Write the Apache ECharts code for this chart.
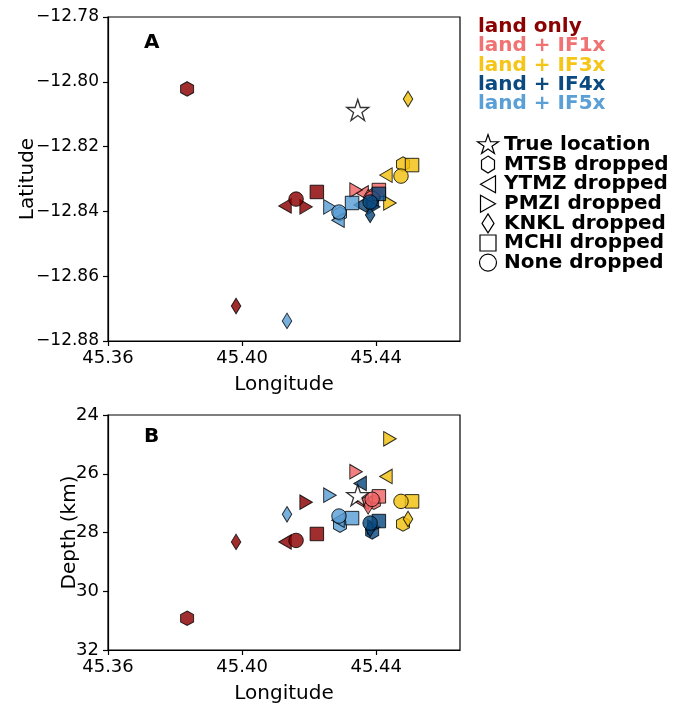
<!DOCTYPE html>
<html><head><meta charset="utf-8">
<script src="https://cdn.jsdelivr.net/npm/echarts@6/dist/echarts.min.js"></script>
<style>html,body{margin:0;padding:0;background:#fff}#c{width:689px;height:705px}</style>
</head><body><div id="c"></div>
<script>
// ---- tick values ----
const lonTicks = [45.36, 45.40, 45.44];
const latTicks = [-12.88, -12.86, -12.84, -12.82, -12.80, -12.78];
const depthTicks = [24, 26, 28, 30, 32];

// ---- categories ----
const groupNames = ['land only', 'land + IF1x', 'land + IF3x', 'land + IF4x', 'land + IF5x'];
const droppedNames = ['MTSB dropped', 'YTMZ dropped', 'PMZI dropped', 'KNKL dropped', 'MCHI dropped', 'None dropped'];

// ---- values (order: MTSB, YTMZ, PMZI, KNKL, MCHI, None) ----
const lonLand = [45.3836, 45.4128, 45.4191, 45.3982, 45.4223, 45.4161];
const latLand = [-12.8022, -12.8383, -12.8386, -12.8692, -12.8340, -12.8362];
const depLand = [30.92, 28.32, 26.97, 28.32, 28.05, 28.27];

const lonIF1 = [45.4393, 45.4358, 45.4340, 45.4376, 45.4408, 45.4388];
const latIF1 = [-12.8349, -12.8343, -12.8334, -12.8356, -12.8334, -12.8359];
const depIF1 = [26.97, 26.97, 25.93, 27.11, 26.77, 26.87];

const lonIF3 = [45.4480, 45.4429, 45.4441, 45.4495, 45.4507, 45.4474];
const latIF3 = [-12.8254, -12.8288, -12.8374, -12.8053, -12.8257, -12.8291];
const depIF3 = [27.71, 26.09, 24.81, 27.54, 26.94, 26.94];

const lonIF4 = [45.4388, 45.4352, 45.4393, 45.4382, 45.4408, 45.4382];
const latIF4 = [-12.8374, -12.8380, -12.8386, -12.8411, -12.8346, -12.8371];
const depIF4 = [27.98, 26.33, 27.81, 27.88, 27.61, 27.68];

const lonIF5 = [45.4292, 45.4286, 45.4262, 45.4134, 45.4328, 45.4289];
const latIF5 = [-12.8408, -12.8427, -12.8386, -12.8738, -12.8374, -12.8402];
const depIF5 = [27.75, 27.58, 26.73, 27.38, 27.51, 27.44];

const trueLon = [45.4345];
const trueLat = [-12.8087];
const trueDep = [26.73];

// ---- styling ----
const groupColors = ['#8b0000', '#f06464', '#f2c10e', '#0b4a80', '#5a9fd6'];
const textColors = ['#8b0000', '#f07272', '#f5c518', '#0b4a80', '#5a9fd6'];
const FONT = 'DejaVu Sans';

const groupsLon = [lonLand, lonIF1, lonIF3, lonIF4, lonIF5];
const groupsLat = [latLand, latIF1, latIF3, latIF4, latIF5];
const groupsDep = [depLand, depIF1, depIF3, depIF4, depIF5];

const unitShapes = {
  hex: [[0,-1],[0.866,-0.5],[0.866,0.5],[0,1],[-0.866,0.5],[-0.866,-0.5]],
  left: [[-1,0],[1,-1],[1,1]],
  right: [[1,0],[-1,-1],[-1,1]],
  diamond: [[0,-1],[1,0],[0,1],[-1,0]],
  star: [[0,-1],[0.2245,-0.309],[0.951,-0.309],[0.363,0.118],[0.588,0.809],[0,0.382],[-0.588,0.809],[-0.363,0.118],[-0.951,-0.309],[-0.2245,-0.309]]
};
function toPath(pts) {
  return 'path://M' + pts.map(p => (p[0]*100).toFixed(2) + ',' + (p[1]*100).toFixed(2)).join(' L') + ' Z';
}
const shapeSymbols = [
  {symbol: toPath(unitShapes.hex), size: [13, 14.5]},
  {symbol: toPath(unitShapes.left), size: [12.5, 14.5]},
  {symbol: toPath(unitShapes.right), size: [12.5, 14.5]},
  {symbol: toPath(unitShapes.diamond), size: [9.5, 15.5]},
  {symbol: 'rect', size: [13.5, 13.5]},
  {symbol: 'circle', size: [14.5, 14.5]}
];
const starSymbol = {symbol: toPath(unitShapes.star), size: [22, 21]};

function fmtMinus(v, d) { return v.toFixed(d).replace('-', '\u2212'); }

const gridA = {left: 108, top: 17, width: 352, height: 324};
const gridB = {left: 108, top: 415, width: 352, height: 237};

function xAxisCfg(gi) {
  return {
    type: 'value', gridIndex: gi, min: 45.36, max: 45.465,
    name: 'Longitude', nameLocation: 'middle', nameGap: 34, nameMoveOverlap: false,
    nameTextStyle: {fontFamily: FONT, fontSize: 20, color: '#000'},
    axisLine: {show: true, lineStyle: {color: '#000', width: 1.2}},
    axisTick: {show: true, inside: false, length: 5, customValues: lonTicks, lineStyle: {color: '#000', width: 1.2}},
    axisLabel: {show: true, margin: 8, customValues: lonTicks, fontFamily: FONT, fontSize: 18, color: '#000',
      formatter: v => v.toFixed(2)},
    splitLine: {show: false}
  };
}

const option = {
  animation: false,
  backgroundColor: '#fff',
  grid: [
    Object.assign({show: true, borderColor: '#000', borderWidth: 1.2, backgroundColor: 'transparent'}, gridA),
    Object.assign({show: true, borderColor: '#000', borderWidth: 1.2, backgroundColor: 'transparent'}, gridB)
  ],
  xAxis: [xAxisCfg(0), xAxisCfg(1)],
  yAxis: [
    {
      type: 'value', gridIndex: 0, min: -12.88, max: -12.78,
      name: 'Latitude', nameLocation: 'middle', nameGap: 70, nameMoveOverlap: false,
      nameTextStyle: {fontFamily: FONT, fontSize: 20, color: '#000'},
      axisLine: {show: true, lineStyle: {color: '#000', width: 1.2}},
      axisTick: {show: true, inside: false, length: 5, customValues: latTicks, lineStyle: {color: '#000', width: 1.2}},
      axisLabel: {show: true, margin: 9, customValues: latTicks, fontFamily: FONT, fontSize: 17, color: '#000',
        formatter: v => fmtMinus(v, 2)},
      splitLine: {show: false}
    },
    {
      type: 'value', gridIndex: 1, min: 24, max: 32, inverse: true,
      name: 'Depth (km)', nameLocation: 'middle', nameGap: 28, nameMoveOverlap: false,
      nameTextStyle: {fontFamily: FONT, fontSize: 20, color: '#000'},
      axisLine: {show: true, lineStyle: {color: '#000', width: 1.2}},
      axisTick: {show: true, inside: false, length: 5, customValues: depthTicks, lineStyle: {color: '#000', width: 1.2}},
      axisLabel: {show: true, margin: 9, customValues: depthTicks, fontFamily: FONT, fontSize: 18, color: '#000',
        formatter: v => String(Math.round(v))},
      splitLine: {show: false}
    }
  ],
  series: [],
  graphic: []
};

// scatter series built from the arrays
groupNames.forEach((name, g) => {
  const mk = (ys, panel) => ({
    type: 'scatter', name: name, xAxisIndex: panel, yAxisIndex: panel, z: 2 + g,
    itemStyle: {color: groupColors[g], borderColor: '#000', borderWidth: 1, opacity: 0.82},
    emphasis: {disabled: true},
    data: groupsLon[g].map((lon, k) => ({
      value: [lon, ys[k]], symbol: shapeSymbols[k].symbol, symbolSize: shapeSymbols[k].size
    }))
  });
  option.series.push(mk(groupsLat[g], 0));
  option.series.push(mk(groupsDep[g], 1));
});
[[trueLat, 0], [trueDep, 1]].forEach(([ys, panel]) => {
  option.series.push({
    type: 'scatter', name: 'True location', xAxisIndex: panel, yAxisIndex: panel, z: 10,
    symbol: starSymbol.symbol, symbolSize: starSymbol.size,
    itemStyle: {color: '#fff', borderColor: '#000', borderWidth: 1.3},
    emphasis: {disabled: true},
    data: trueLon.map((lon, k) => [lon, ys[k]])
  });
});

// panel letters
option.graphic.push({type: 'text', left: 144, top: 33, style: {text: 'A', font: 'bold 20px "DejaVu Sans"', fill: '#000'}});
option.graphic.push({type: 'text', left: 144, top: 427, style: {text: 'B', font: 'bold 20px "DejaVu Sans"', fill: '#000'}});

// colour legend
groupNames.forEach((name, g) => {
  option.graphic.push({type: 'text', x: 478, y: 27 + g * 19.2,
    style: {text: name, font: 'bold 20px "DejaVu Sans"', fill: textColors[g], textVerticalAlign: 'middle'}});
});

// marker legend
function poly(pts, cx, cy, w, h) {
  return {type: 'polygon', shape: {points: pts.map(p => [cx + p[0] * w / 2, cy + p[1] * h / 2])},
    style: {fill: '#fff', stroke: '#000', lineWidth: 1.2}};
}
const legRows = ['True location'].concat(droppedNames);
legRows.forEach((label, i) => {
  const cy = 145 + i * 19.6, cx = 488;
  let el;
  if (i === 0) el = poly(unitShapes.star, cx, cy, 22, 21);
  else if (i === 1) el = poly(unitShapes.hex, cx, cy, 15, 17);
  else if (i === 2) el = poly(unitShapes.left, cx, cy, 15, 17);
  else if (i === 3) el = poly(unitShapes.right, cx, cy, 15, 17);
  else if (i === 4) el = poly(unitShapes.diamond, cx, cy, 12, 19);
  else if (i === 5) el = {type: 'rect', shape: {x: cx - 8, y: cy - 8, width: 16, height: 16}, style: {fill: '#fff', stroke: '#000', lineWidth: 1.2}};
  else el = {type: 'circle', shape: {cx: cx, cy: cy, r: 8.5}, style: {fill: '#fff', stroke: '#000', lineWidth: 1.2}};
  option.graphic.push(el);
  option.graphic.push({type: 'text', x: 504, y: cy,
    style: {text: label, font: 'bold 20px "DejaVu Sans"', fill: '#000', textVerticalAlign: 'middle'}});
});

const chart = echarts.init(document.getElementById('c'), null, {renderer: 'canvas'});
chart.setOption(option);
</script>
</body></html>
